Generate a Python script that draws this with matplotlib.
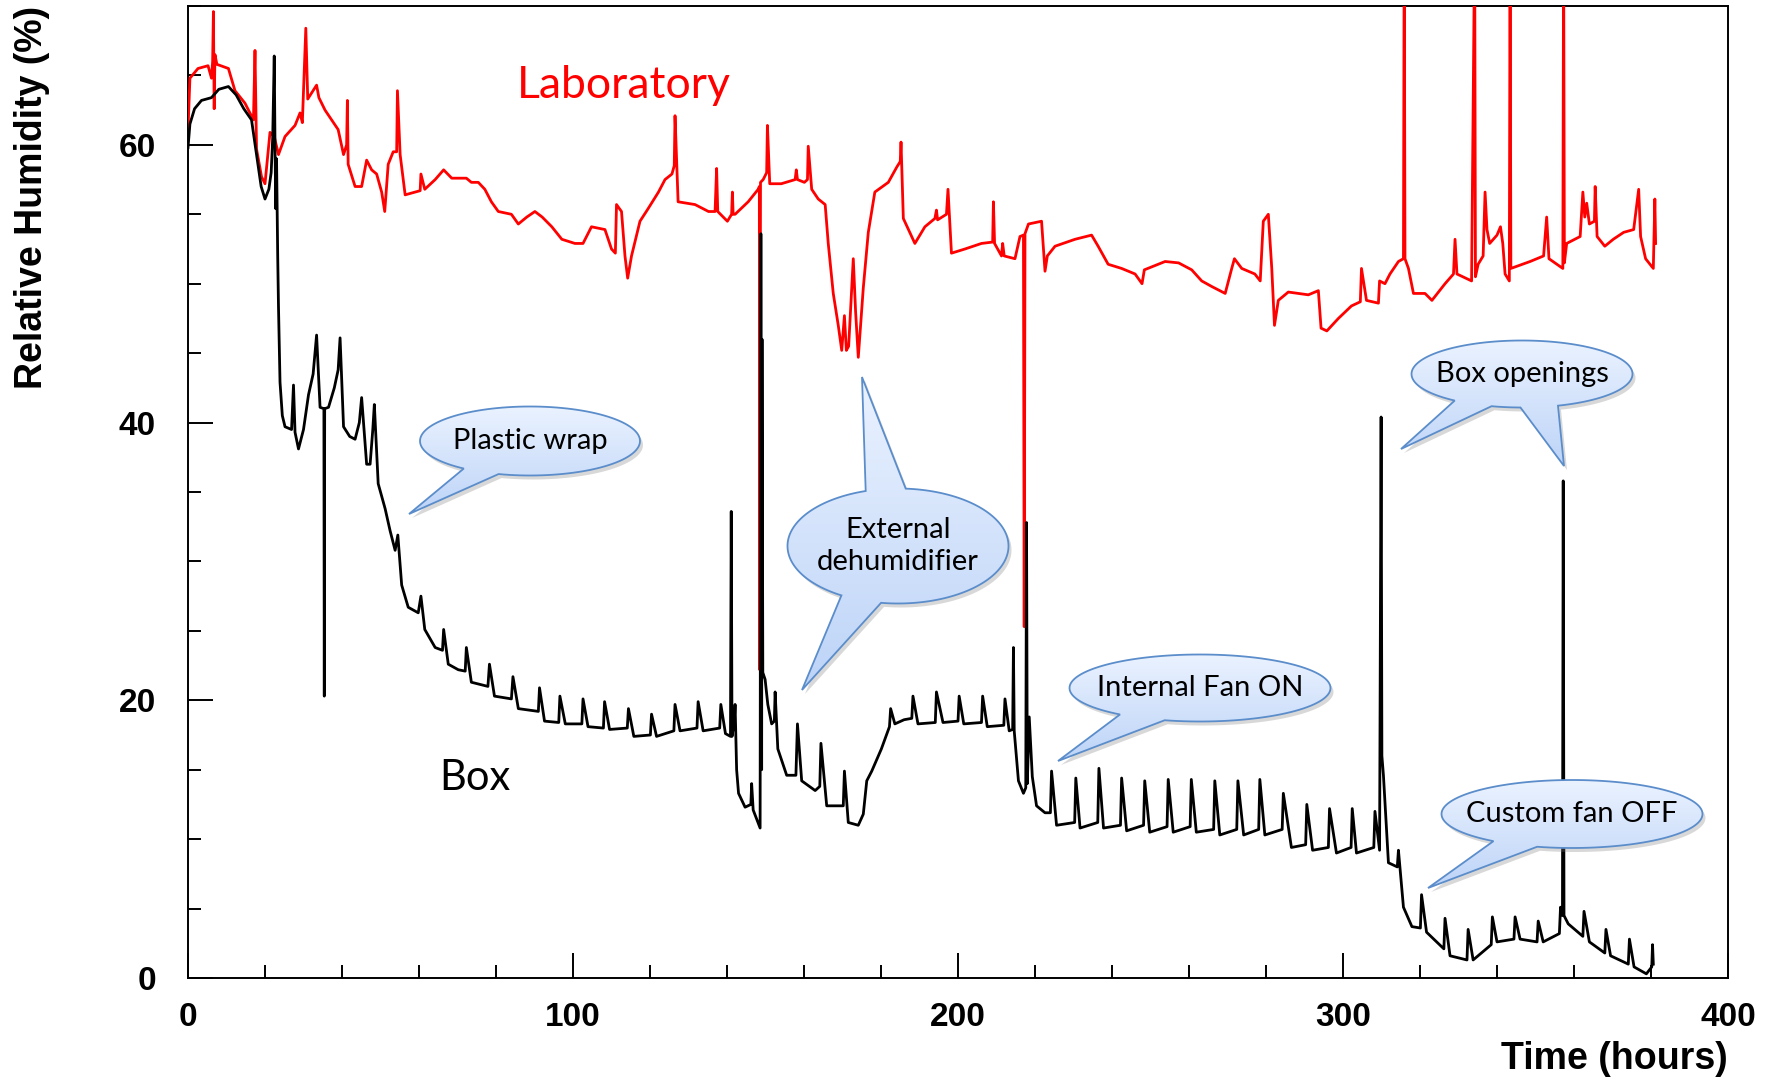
import numpy as np
import matplotlib
matplotlib.use("Agg")
import matplotlib.pyplot as plt
from matplotlib.path import Path
from matplotlib.patches import PathPatch
from matplotlib.ticker import MultipleLocator

plt.rcParams['font.family'] = ['Liberation Sans', 'DejaVu Sans']

# Box humidity (time in hours, RH in %)
box_points = [
    (0.0, 59.8), (0.5, 61.5), (1.7, 62.6), (3.5, 63.2), (6.1, 63.4), (8.0, 64.0), (10.5, 64.2),
    (12.5, 63.6), (14.5, 62.6), (16.5, 61.8), (17.8, 59.3), (19.0, 57.0), (20.0, 56.1), (21.0, 56.8),
    (21.6, 58.0), (22.0, 60.5), (22.2, 63.4), (22.4, 66.4), (22.6, 60.0), (22.8, 55.4), (23.0, 59.0),
    (23.3, 52.0), (23.5, 48.4), (23.9, 42.9), (24.5, 40.5), (25.2, 39.7), (26.9, 39.5), (27.4, 42.7),
    (27.8, 39.3), (28.7, 38.1), (30.0, 39.5), (31.3, 42.0), (32.5, 43.5), (33.4, 46.3), (34.3, 41.1),
    (35.3, 41.0), (35.4, 20.3), (35.5, 41.0), (36.5, 41.1), (38.0, 42.5), (39.0, 43.8), (39.5, 46.1),
    (40.4, 39.7), (42.0, 39.0), (43.4, 38.8), (44.5, 40.0), (45.1, 41.8), (46.4, 37.0), (47.3, 37.0),
    (48.0, 39.5), (48.4, 41.3), (49.4, 35.6), (51.2, 33.8), (52.5, 32.2), (53.8, 30.8), (54.5, 31.9),
    (55.5, 28.3), (57.2, 26.7), (59.8, 26.3), (60.5, 27.5), (61.5, 25.1), (64.2, 23.8), (66.1, 23.6),
    (66.4, 25.1), (67.6, 22.6), (70.2, 22.2), (72.0, 22.1), (72.3, 23.8), (73.6, 21.3), (77.9, 21.0),
    (78.3, 22.6), (79.6, 20.3), (84.0, 20.1), (84.4, 21.7), (85.8, 19.4), (91.0, 19.2), (91.3, 20.9),
    (92.6, 18.5), (96.3, 18.4), (96.6, 20.3), (98.0, 18.3), (102.3, 18.3), (102.6, 20.1), (103.9, 18.1),
    (107.9, 18.0), (108.2, 19.9), (109.5, 17.9), (114.1, 18.0), (114.4, 19.4), (115.8, 17.4),
    (120.1, 17.5), (120.4, 19.0), (121.7, 17.4), (126.2, 17.8), (126.5, 19.7), (127.8, 17.8),
    (132.2, 18.0), (132.5, 19.9), (133.8, 17.8), (138.1, 18.0), (138.4, 19.7), (139.6, 17.6),
    (140.9, 17.4), (141.1, 33.6), (141.3, 17.4), (141.9, 18.5), (142.1, 19.7), (142.5, 15.0),
    (143.0, 13.3), (144.7, 12.3), (146.2, 12.5), (146.4, 14.0), (146.8, 12.1), (148.6, 10.8),
    (148.8, 53.6), (149.0, 15.0), (149.1, 46.0), (149.3, 22.0), (149.9, 21.5), (150.6, 19.7),
    (151.6, 18.3), (152.3, 18.5), (152.5, 20.6), (153.2, 16.5), (155.5, 14.6), (157.9, 14.6),
    (158.3, 18.3), (159.4, 14.2), (162.9, 13.5), (164.1, 13.8), (164.4, 16.9), (165.9, 12.4),
    (170.2, 12.4), (170.5, 14.9), (171.5, 11.2), (174.1, 11.0), (175.4, 11.8), (176.3, 14.2),
    (177.6, 14.9), (180.1, 16.5), (182.2, 18.1), (182.5, 19.4), (183.6, 18.3), (186.0, 18.6),
    (188.0, 18.7), (188.3, 20.3), (189.6, 18.3), (194.1, 18.4), (194.4, 20.6), (196.1, 18.4),
    (200.0, 18.5), (200.3, 20.3), (201.5, 18.3), (206.1, 18.4), (206.4, 20.3), (207.6, 18.1),
    (211.9, 18.2), (212.2, 20.1), (213.3, 17.8), (214.2, 17.9), (214.4, 23.8), (214.6, 17.8),
    (215.7, 14.2), (217.0, 13.3), (217.6, 13.7), (217.8, 32.8), (218.0, 14.0), (218.5, 18.8),
    (219.3, 14.5), (220.4, 12.4), (222.6, 11.9), (224.0, 11.9), (224.3, 14.9), (225.6, 11.0),
    (230.3, 11.2), (230.6, 14.4), (231.7, 10.8), (236.3, 11.2), (236.6, 15.1), (237.8, 10.8),
    (242.2, 11.0), (242.5, 14.4), (243.8, 10.6), (248.2, 11.0), (248.5, 14.2), (249.8, 10.5),
    (254.3, 10.9), (254.6, 14.3), (255.9, 10.5), (260.3, 10.9), (260.6, 14.3), (261.9, 10.5),
    (266.4, 10.7), (266.7, 14.2), (268.0, 10.3), (272.4, 10.7), (272.7, 14.2), (274.2, 10.3),
    (278.1, 10.7), (278.4, 14.3), (279.7, 10.3), (284.2, 10.7), (284.5, 13.3), (286.6, 9.4),
    (290.3, 9.6), (290.6, 12.5), (292.1, 9.2), (296.2, 9.4), (296.5, 12.2), (298.3, 9.0),
    (302.1, 9.4), (302.4, 12.2), (303.5, 9.0), (308.0, 9.4), (308.3, 12.0), (309.5, 9.2),
    (309.9, 40.4), (310.1, 16.0), (310.5, 14.6), (311.8, 8.3), (314.1, 8.0), (314.4, 9.2),
    (315.7, 5.1), (317.9, 3.7), (320.1, 3.6), (320.4, 6.0), (321.7, 3.3), (326.2, 2.1),
    (326.5, 4.3), (327.8, 1.6), (332.2, 1.3), (332.5, 3.5), (333.8, 1.3), (338.5, 2.4),
    (338.8, 4.4), (340.0, 2.6), (344.4, 2.8), (344.7, 4.4), (346.0, 2.8), (350.4, 2.6),
    (350.7, 4.1), (352.0, 2.6), (356.2, 3.2), (356.5, 5.1), (357.0, 4.5), (357.2, 35.8),
    (357.4, 4.5), (358.5, 3.9), (362.3, 3.0), (362.6, 4.8), (364.0, 2.6), (368.0, 1.8),
    (368.3, 3.5), (369.5, 1.6), (374.1, 1.0), (374.4, 2.8), (375.6, 0.8), (378.8, 0.3),
    (380.2, 0.8), (380.4, 2.4), (380.6, 1.0),
]

# Laboratory humidity
lab_points = [
    (0.0, 61.1), (0.5, 64.8), (2.6, 65.5), (5.2, 65.7), (6.1, 64.8), (6.4, 66.0), (6.6, 69.6),
    (6.8, 62.6), (7.0, 66.5), (7.5, 65.8), (10.5, 65.5), (12.2, 63.9), (14.8, 63.0), (17.0, 61.8),
    (17.4, 66.8), (17.8, 59.7), (19.1, 57.7), (20.0, 57.2), (21.3, 60.9), (22.4, 60.6), (23.5, 59.3),
    (25.2, 60.6), (27.8, 61.4), (29.1, 62.3), (29.7, 61.6), (30.6, 68.4), (31.1, 63.3), (33.4, 64.3),
    (34.0, 63.4), (35.6, 62.5), (37.3, 61.8), (39.0, 61.1), (40.4, 59.3), (41.2, 60.0), (41.4, 63.2),
    (41.6, 58.6), (43.4, 57.0), (45.1, 57.0), (46.4, 58.9), (47.7, 58.2), (49.0, 57.9), (50.3, 56.6),
    (51.1, 55.2), (52.0, 58.6), (53.3, 59.5), (54.2, 59.5), (54.4, 63.9), (55.1, 59.3), (56.4, 56.4),
    (59.0, 56.6), (60.3, 56.7), (60.5, 57.9), (61.5, 56.8), (64.2, 57.5), (66.4, 58.2), (68.5, 57.6),
    (72.3, 57.6), (73.6, 57.3), (75.4, 57.3), (77.1, 56.8), (78.8, 55.9), (80.6, 55.2), (84.0, 55.0),
    (85.8, 54.3), (88.0, 54.8), (90.1, 55.2), (92.0, 54.8), (94.5, 54.1), (97.1, 53.2), (100.5, 52.9),
    (102.6, 52.9), (104.8, 54.1), (108.3, 53.9), (110.0, 52.5), (111.0, 52.2), (111.3, 55.7),
    (112.6, 55.2), (113.5, 52.0), (114.2, 50.4), (115.2, 52.0), (117.4, 54.5), (119.5, 55.4),
    (122.2, 56.6), (123.9, 57.5), (125.7, 57.9), (126.3, 58.5), (126.5, 62.1), (127.3, 55.9),
    (131.7, 55.7), (135.2, 55.2), (136.9, 55.2), (137.3, 58.3), (137.6, 55.2), (140.1, 54.5),
    (141.2, 55.0), (141.4, 56.6), (141.6, 55.0), (142.1, 55.0), (145.5, 55.9), (148.1, 56.8),
    (148.4, 57.0), (148.5, 22.2), (148.7, 57.3), (149.4, 57.5), (150.3, 58.0), (150.5, 61.4),
    (151.1, 57.2), (154.1, 57.2), (157.7, 57.5), (158.0, 58.2), (158.3, 57.5), (160.1, 57.3),
    (160.9, 57.5), (161.1, 59.9), (162.0, 56.8), (163.7, 56.1), (165.5, 55.7), (166.3, 52.9),
    (167.6, 49.3), (168.9, 47.0), (169.8, 45.2), (170.5, 47.7), (171.0, 45.2), (171.6, 45.5),
    (172.8, 51.8), (173.4, 48.0), (174.1, 44.7), (175.4, 49.7), (176.7, 53.7), (178.4, 56.6),
    (181.9, 57.3), (184.1, 58.4), (185.0, 58.8), (185.2, 60.2), (185.8, 54.7), (188.8, 52.9),
    (191.4, 54.1), (194.0, 54.7), (194.4, 55.3), (194.7, 54.6), (197.0, 55.0), (197.4, 56.8),
    (198.3, 52.2), (201.8, 52.5), (206.1, 52.9), (209.0, 53.0), (209.2, 55.9), (209.5, 52.9),
    (211.3, 52.0), (211.6, 52.9), (212.0, 52.0), (214.8, 51.8), (216.1, 53.4), (217.0, 53.5),
    (217.2, 25.3), (217.4, 53.6), (218.3, 54.3), (221.7, 54.5), (222.6, 50.9), (223.2, 52.0),
    (225.2, 52.7), (230.4, 53.2), (234.7, 53.5), (236.4, 52.7), (239.0, 51.4), (242.5, 51.1),
    (246.0, 50.7), (247.8, 50.0), (248.4, 51.0), (253.8, 51.6), (257.3, 51.5), (260.7, 51.0),
    (263.3, 50.2), (265.9, 49.8), (269.4, 49.3), (271.1, 51.1), (271.8, 51.8), (273.7, 51.1),
    (277.1, 50.7), (278.5, 50.2), (279.3, 54.5), (280.6, 55.0), (281.5, 51.1), (282.2, 47.0),
    (283.2, 48.8), (285.8, 49.4), (291.0, 49.2), (293.6, 49.5), (294.3, 46.8), (295.8, 46.6),
    (298.8, 47.5), (302.2, 48.4), (304.5, 48.7), (304.8, 51.1), (306.1, 48.8), (309.2, 48.6),
    (309.5, 50.2), (310.9, 50.0), (312.2, 50.7), (314.4, 51.6), (315.7, 51.8), (315.9, 75.0),
    (316.1, 51.8), (317.0, 51.1), (318.3, 49.3), (321.3, 49.3), (323.1, 48.8), (326.5, 50.0),
    (328.7, 50.7), (329.1, 53.2), (329.6, 50.7), (333.4, 50.2), (334.2, 75.0), (334.4, 50.5),
    (335.1, 51.4), (336.4, 52.0), (336.9, 56.6), (337.4, 53.9), (338.1, 52.9), (340.0, 53.5),
    (340.9, 54.1), (341.5, 52.9), (342.1, 50.7), (343.2, 50.2), (343.4, 75.0), (343.6, 51.1),
    (348.6, 51.6), (352.1, 52.0), (352.9, 54.8), (353.5, 51.8), (357.1, 51.1), (357.3, 75.0),
    (357.5, 51.5), (358.1, 52.9), (361.6, 53.4), (362.3, 56.6), (362.8, 54.8), (363.3, 55.8),
    (364.0, 54.3), (365.3, 54.5), (365.5, 57.0), (366.0, 53.4), (368.0, 52.7), (370.2, 53.2),
    (372.9, 53.7), (375.5, 53.9), (376.8, 56.8), (377.3, 53.4), (378.6, 51.8), (380.6, 51.1),
    (381.0, 56.1), (381.2, 52.9),
]

box_t, box_rh = np.array(box_points).T
lab_t, lab_rh = np.array(lab_points).T

W, H = 1769, 1079
fig = plt.figure(figsize=(W / 100, H / 100), dpi=100)
ax = fig.add_axes([188 / W, 1 - 978 / H, 1540 / W, 972 / H])

ax.plot(lab_t, lab_rh, color='#ff0000', lw=2.0, zorder=3)
ax.plot(box_t, box_rh, color='black', lw=2.0, zorder=3)

ax.set_xlim(0, 400)
ax.set_ylim(0, 70)
ax.xaxis.set_major_locator(MultipleLocator(100))
ax.xaxis.set_minor_locator(MultipleLocator(20))
ax.yaxis.set_major_locator(MultipleLocator(20))
ax.yaxis.set_minor_locator(MultipleLocator(5))
ax.tick_params(which='both', direction='in', top=False, right=False, width=1.4)
ax.tick_params(which='major', length=18)
ax.tick_params(which='minor', length=9.5)
ax.tick_params(axis='x', labelsize=24, pad=17)
ax.tick_params(axis='y', labelsize=24, pad=23)
for lab in ax.get_xticklabels() + ax.get_yticklabels():
    lab.set_fontweight('bold')
for sp in ax.spines.values():
    sp.set_linewidth(1.4)

ax.text(-0.101, 1.0, 'Relative Humidity (%)', transform=ax.transAxes, rotation=90,
        ha='center', va='top', fontsize=27, fontweight='bold')
ax.text(1.0, -0.083, 'Time (hours)', transform=ax.transAxes, ha='right', va='center',
        fontsize=27, fontweight='bold')


def px(fx, fy):
    # figure pixel (top-left origin) -> data coords
    return ax.transData.inverted().transform((fx, H - fy))


lx, ly = px(624, 86)
ax.text(lx, ly, 'Laboratory', color='#ff0000', fontsize=32, family='Lato', ha='center', va='center')
bx, by = px(475, 778)
ax.text(bx, by, 'Box', color='black', fontsize=30, family='Lato', ha='center', va='center')


def bubble(cx, cy, w, h, tails, text):
    a, b = w / 2, h / 2
    tails = sorted(tails)
    verts = []
    n = len(tails)
    for i in range(n):
        a0 = tails[i][1]
        nxt = tails[(i + 1) % n]
        a1 = nxt[0]
        if a1 <= a0:
            a1 += 360
        ang = np.radians(np.linspace(a0, a1, 120))
        for th in ang:
            verts.append((cx + a * np.cos(th), cy - b * np.sin(th)))
        verts.append(nxt[2])
    verts.append(verts[0])
    pts = np.array([px(x, y) for x, y in verts])
    codes = [Path.MOVETO] + [Path.LINETO] * (len(pts) - 2) + [Path.CLOSEPOLY]

    # shadow
    spts = np.array([px(x + 3, y + 4) for x, y in verts])
    shadow = PathPatch(Path(spts, codes), facecolor='#7f7f7f', edgecolor='none', alpha=0.3, zorder=4)
    ax.add_patch(shadow)

    patch = PathPatch(Path(pts, codes), facecolor='none', edgecolor='#5b8dcb', lw=1.3, zorder=6)
    ax.add_patch(patch)

    # vertical gradient fill clipped to the bubble
    grad = np.linspace(0, 1, 256).reshape(-1, 1)
    top = np.array([0.92, 0.95, 1.0])
    bot = np.array([0.74, 0.83, 0.97])
    img = top + (bot - top) * grad[..., None]
    x0, y0 = pts.min(axis=0)
    x1, y1 = pts.max(axis=0)
    im = ax.imshow(img, extent=(x0, x1, y0, y1), origin='upper', aspect='auto', zorder=5,
                   interpolation='bilinear')
    im.set_clip_path(PathPatch(Path(pts, codes), transform=ax.transData))

    tx, ty = px(cx, cy)
    ax.text(tx, ty, text, fontsize=21, family='Lato', ha='center', va='center', zorder=7,
            linespacing=1.3)


bubble(530, 441, 220, 69, [(-127, -106.6, (409, 514))], 'Plastic wrap')
bubble(898, 546, 221, 115, [(86, 107, (862, 377)), (-120.8, -98.8, (802, 690))],
       'External\ndehumidifier')
bubble(1200, 688, 261, 67, [(-127.8, -105.7, (1058, 761))], 'Internal Fan ON')
bubble(1522, 374, 221, 67, [(-127.5, -106, (1401, 449)), (-90.8, -71, (1564, 466))], 'Box openings')
bubble(1572, 814, 261, 68, [(-127, -105.5, (1428, 888))], 'Custom fan OFF')

ax.set_xlim(0, 400)
ax.set_ylim(0, 70)

fig.savefig('out.png', dpi=100)
